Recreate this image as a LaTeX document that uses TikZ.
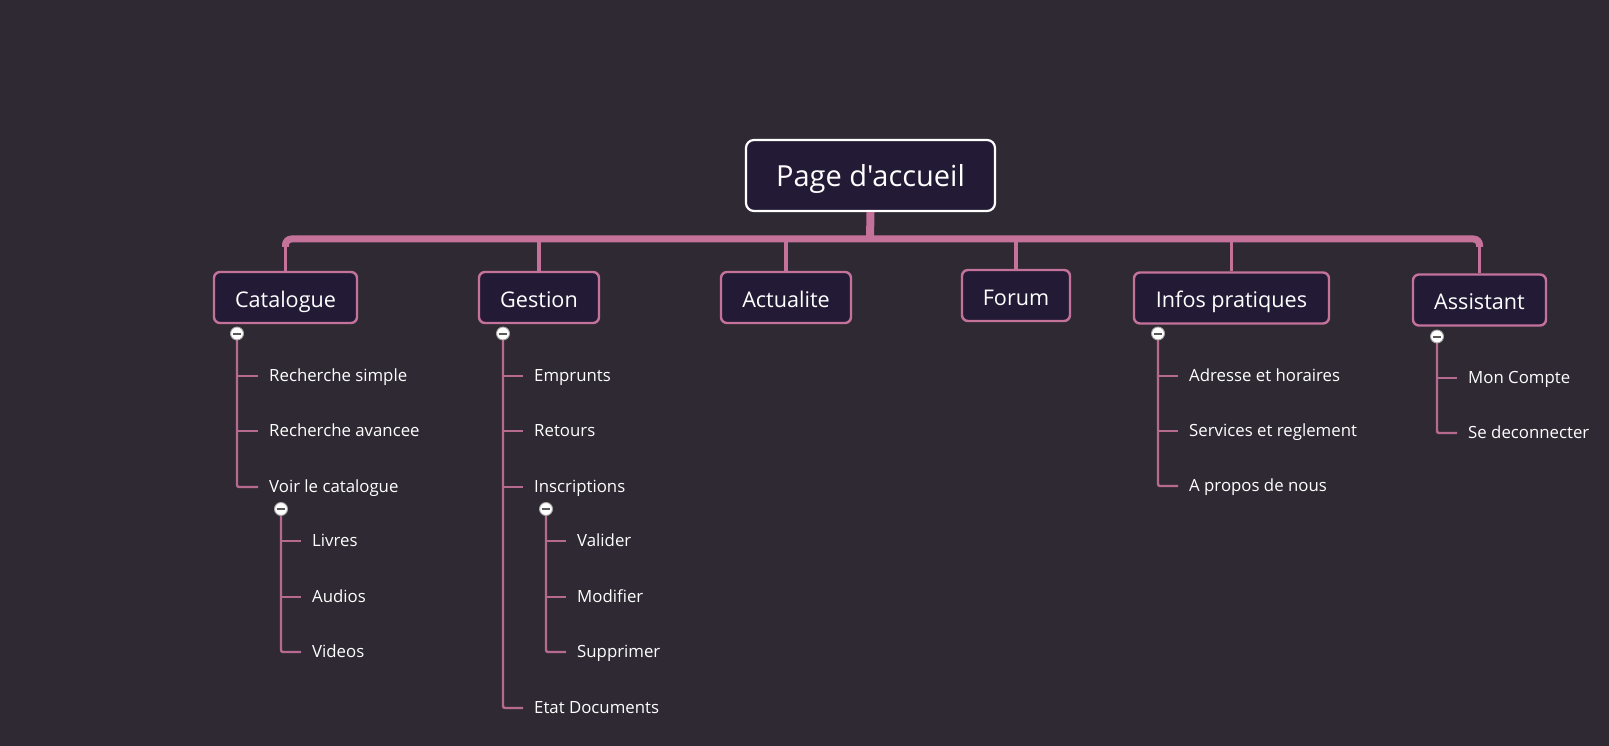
\documentclass[tikz,border=0pt]{standalone}
\usepackage{fontspec}
\setmainfont{Open Sans}[Ligatures=TeXOff]
\begin{document}
\definecolor{bgdark}{HTML}{2E2933}
\definecolor{boxfill}{HTML}{231B36}
\definecolor{linkpink}{HTML}{C4729A}
\definecolor{leafpink}{HTML}{B66A90}
\begin{tikzpicture}[x=1pt,y=-1pt,
  rootbox/.style={draw=white, line width=2.2pt, fill=boxfill, rounded corners=8pt,
    text=white, font=\fontsize{29}{33}\selectfont, text height=22.4pt, text depth=0pt,
    minimum width=249pt, minimum height=71pt, inner sep=0pt},
  topicbox/.style={draw=linkpink, line width=2.4pt, fill=boxfill, rounded corners=6pt,
    text=white, font=\fontsize{21.6}{25}\selectfont, text height=19.6pt, text depth=0pt,
    minimum height=51pt, inner sep=0pt},
  leaf/.style={anchor=west, text=white, font=\fontsize{16.8}{19}\selectfont,
    text height=11.6pt, text depth=0pt, inner xsep=11pt, inner ysep=0pt},
  trunk/.style={draw=linkpink, line width=8pt},
  bar/.style={draw=linkpink, line width=7pt, rounded corners=6pt},
  drop/.style={draw=linkpink, line width=3.5pt},
  leafline/.style={draw=leafpink, line width=2.4pt, rounded corners=2pt},
  toggle/.style={circle, draw=gray!70, line width=0.9pt, fill=white, minimum size=13pt,
    inner sep=0pt, path picture={\draw[black!65, line width=2pt]
      ([xshift=-4.4pt]path picture bounding box.center) -- ([xshift=4.4pt]path picture bounding box.center);}}
]
\fill[bgdark] (0,0) rectangle (1609,746);

% root and first-level topics
\node[rootbox] (root) at (870.5,175.5) {Page d'accueil};
\node[topicbox, minimum width=143pt] (cat) at (285.5,297.5) {Catalogue};
\node[topicbox, minimum width=120pt] (ges) at (539,297.5) {Gestion};
\node[topicbox, minimum width=130pt] (act) at (786,297.5) {Actualite};
\node[topicbox, minimum width=108pt] (for) at (1016,295.5) {Forum};
\node[topicbox, minimum width=195pt] (inf) at (1231.5,298) {Infos pratiques};
\node[topicbox, minimum width=133pt] (ass) at (1479.5,300) {Assistant};

% main branch bar
\coordinate (J) at (870,239);
\draw[trunk] (root.south) -- (J);
\draw[bar] (cat.north |- 0,247) -- (cat.north |- J) -- (ass.north |- J) -- (ass.north |- 0,247);
\foreach \t in {cat,ges,act,for,inf,ass}
  \draw[drop] (\t.north |- J) -- (\t.north);

% toggles
\coordinate (tcat) at (237,333.5);
\coordinate (tges) at (503,333.5);
\coordinate (tinf) at (1158,333.5);
\coordinate (tass) at (1437,336.5);
\coordinate (tvoir) at (281,509);
\coordinate (tins) at (546,509);

% Catalogue leaves
\node[leaf] (c1) at (258,376) {Recherche simple};
\node[leaf] (c2) at (258,431) {Recherche avancee};
\node[leaf] (c3) at (258,487) {Voir le catalogue};
\node[leaf] (v1) at (301,541) {Livres};
\node[leaf] (v2) at (301,597) {Audios};
\node[leaf] (v3) at (301,652) {Videos};

% Gestion leaves
\node[leaf] (g1) at (523,376) {Emprunts};
\node[leaf] (g2) at (523,431) {Retours};
\node[leaf] (g3) at (523,487) {Inscriptions};
\node[leaf] (g4) at (523,708) {Etat Documents};
\node[leaf] (i1) at (566,541) {Valider};
\node[leaf] (i2) at (566,597) {Modifier};
\node[leaf] (i3) at (566,652) {Supprimer};

% Infos pratiques leaves
\node[leaf] (p1) at (1178,376) {Adresse et horaires};
\node[leaf] (p2) at (1178,431) {Services et reglement};
\node[leaf] (p3) at (1178,486) {A propos de nous};

% Assistant leaves
\node[leaf] (a1) at (1457,378) {Mon Compte};
\node[leaf] (a2) at (1457,433) {Se deconnecter};

% leaf connectors
\draw[leafline] (tcat) |- (c3.west);
\draw[leafline] (tcat |- c1.west) -- (c1.west);
\draw[leafline] (tcat |- c2.west) -- (c2.west);
\draw[leafline] (tvoir) |- (v3.west);
\draw[leafline] (tvoir |- v1.west) -- (v1.west);
\draw[leafline] (tvoir |- v2.west) -- (v2.west);

\draw[leafline] (tges) |- (g4.west);
\foreach \n in {g1,g2,g3}
  \draw[leafline] (tges |- \n.west) -- (\n.west);
\draw[leafline] (tins) |- (i3.west);
\draw[leafline] (tins |- i1.west) -- (i1.west);
\draw[leafline] (tins |- i2.west) -- (i2.west);

\draw[leafline] (tinf) |- (p3.west);
\draw[leafline] (tinf |- p1.west) -- (p1.west);
\draw[leafline] (tinf |- p2.west) -- (p2.west);

\draw[leafline] (tass) |- (a2.west);
\draw[leafline] (tass |- a1.west) -- (a1.west);

% collapse markers on top of the lines
\foreach \c in {tcat,tges,tinf,tass,tvoir,tins}
  \node[toggle] at (\c) {};
\end{tikzpicture}
\end{document}
